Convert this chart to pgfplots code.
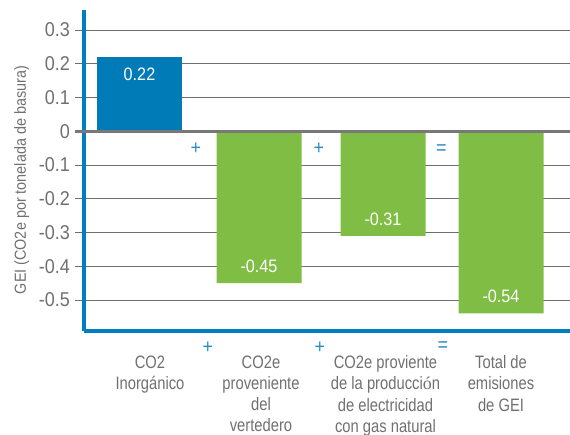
\documentclass[border=0pt]{standalone}
\usepackage{fontspec}
\setmainfont{Liberation Sans}
\newfontfamily\numfont[FakeStretch=0.9]{Liberation Sans}
\newfontfamily\catfont[FakeStretch=0.82]{Liberation Sans}
\newfontfamily\serifo{Liberation Serif}
\usepackage{pgfplots}
\pgfplotsset{compat=1.18}
\definecolor{barblue}{RGB}{0,123,184}
\definecolor{axisblue}{RGB}{0,127,192}
\definecolor{bargreen}{RGB}{128,189,68}
\definecolor{gridgray}{RGB}{110,110,110}
\definecolor{zerogray}{RGB}{120,120,120}
\definecolor{txtgray}{RGB}{112,112,112}
\definecolor{signblue}{RGB}{40,140,200}
\begin{document}
\begin{tikzpicture}
\begin{axis}[name=ax, scale only axis, width=486bp, height=321bp,
  xmin=84, xmax=570, ymin=-0.5919, ymax=0.3593,
  enlargelimits=false,
  axis x line*=bottom, axis y line*=left,
  axis line style={-, line width=4bp, color=axisblue},
  clip=false,
  ytick={-0.5,-0.4,-0.3,-0.2,-0.1,0,0.1,0.2,0.3},
  yticklabels={-0.5,-0.4,-0.3,-0.2,-0.1,0,0.1,0.2,0.3},
  ymajorgrids, grid style={gridgray, line width=0.9bp},
  tick align=outside, major tick length=9bp,
  ytick style={gridgray, line width=0.9bp},
  yticklabel style={font=\numfont\fontsize{20bp}{24bp}\selectfont, text=txtgray, xshift=-1.5bp},
  xtick={150,261,385.5,501},
  xticklabels={{CO2\\Inorgánico},{CO2e\\proveniente\\del\\vertedero},{CO2e proviente\\de la producci{\serifo ó}n\\de electricidad\\con gas natural},{Total de\\emisiones\\de GEI}},
  xtick style={draw=none},
  xticklabel style={font=\catfont\fontsize{18bp}{21.3bp}\selectfont, text=txtgray, align=center, anchor=north, yshift=-12bp},
  ylabel={GEI (CO2e por tonelada de basura)},
  ylabel style={font=\numfont\fontsize{16bp}{18bp}\selectfont, text=txtgray, at={(axis description cs:-0.128,0.47)}, anchor=center},
  ybar, bar width=85, bar shift=0pt,
  /pgf/number format/assume math mode=true,
  nodes near coords={\pgfmathprintnumber[fixed,precision=2]{\pgfplotspointmeta}},
  nodes near coords style={font=\numfont\fontsize{18bp}{20bp}\selectfont, text=white},
]
\addplot[fill=barblue, draw=none, every node near coord/.append style={anchor=north, yshift=-7bp}] coordinates {(139.5,0.22)};
\addplot[fill=bargreen, draw=none, every node near coord/.append style={anchor=south, yshift=7bp}] coordinates {(259,-0.45) (383,-0.31) (501,-0.54)};
\draw[zerogray, line width=2.6bp] ([xshift=-9bp]axis cs:84,0) -- (axis cs:570,0);
\node[signblue, font=\numfont\fontsize{20bp}{20bp}\selectfont] at (axis cs:196,-0.053) {+};
\node[signblue, font=\numfont\fontsize{20bp}{20bp}\selectfont] at (axis cs:319,-0.053) {+};
\node[signblue, font=\numfont\fontsize{20bp}{20bp}\selectfont] at (axis cs:441.5,-0.053) {=};
\node[signblue, font=\numfont\fontsize{20bp}{20bp}\selectfont] at (axis cs:208,-0.642) {+};
\node[signblue, font=\numfont\fontsize{20bp}{20bp}\selectfont] at (axis cs:320,-0.642) {+};
\node[signblue, font=\numfont\fontsize{20bp}{20bp}\selectfont] at (axis cs:443,-0.639) {=};
\end{axis}
\pgfresetboundingbox
\path[use as bounding box] ([xshift=-84bp,yshift=-104bp]ax.south west) rectangle ([yshift=10bp]ax.north east);
\end{tikzpicture}
\end{document}
